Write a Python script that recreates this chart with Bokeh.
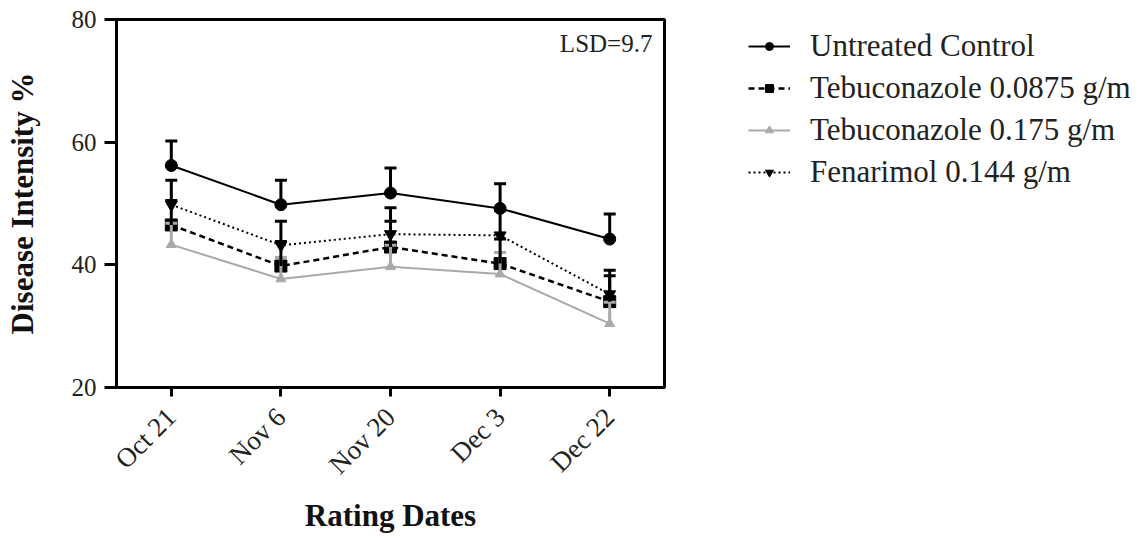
from bokeh.plotting import figure
from bokeh.models import (ColumnDataSource, Whisker, TeeHead, Legend, LegendItem,
                          Label, FixedTicker)
from bokeh.embed import file_html
from bokeh.resources import INLINE
from math import pi

# Rating dates and mean disease intensity (%) with upper error (SE)
dates = ["Oct 21", "Nov 6", "Nov 20", "Dec 3", "Dec 22"]

control = [56.2, 49.8, 51.7, 49.2, 44.2]
control_err = [4.0, 4.0, 4.1, 4.0, 4.1]

tebu_0875 = [46.5, 39.8, 42.9, 40.2, 34.0]
tebu_0875_err = [4.0, 4.0, 4.2, 4.0, 4.2]

tebu_175 = [43.3, 37.7, 39.7, 38.5, 30.4]
tebu_175_err = [3.5, 3.5, 3.5, 3.5, 3.5]

fenarimol = [49.8, 43.2, 45.0, 44.8, 35.2]
fenarimol_err = [4.0, 3.9, 4.3, 4.0, 3.9]

y_ticks = [20, 40, 60, 80]
lsd_text = "LSD=9.7"

SERIF = "Liberation Serif"

p = figure(frame_width=548, frame_height=368, x_range=dates, y_range=(20, 80),
           output_backend="svg", toolbar_location=None,
           min_border_left=116, min_border_right=0,
           min_border_top=19, min_border_bottom=0)

p.xgrid.visible = False
p.ygrid.visible = False
p.outline_line_color = "black"
p.outline_line_width = 3
p.background_fill_color = "white"
p.border_fill_color = "white"

# axes
p.yaxis.ticker = FixedTicker(ticks=y_ticks)
p.yaxis.minor_tick_line_color = None
for ax in (p.xaxis[0], p.yaxis[0]):
    ax.axis_line_width = 3
    ax.axis_line_color = "black"
    ax.major_tick_line_width = 3
    ax.major_tick_line_color = "black"
    ax.major_tick_in = 0
    ax.major_label_text_font = SERIF
    ax.major_label_text_color = "#222222"
    ax.axis_label_text_font = SERIF
    ax.axis_label_text_font_size = "31px"
    ax.axis_label_text_font_style = "bold"
    ax.axis_label_text_color = "#111111"

p.yaxis.major_tick_out = 12
p.yaxis.major_label_standoff = 8
p.yaxis.major_label_text_font_size = "25px"
p.yaxis.axis_label = "Disease Intensity %"
p.yaxis.axis_label_standoff = 29

p.xaxis.major_tick_out = 9
p.xaxis.major_label_standoff = 16
p.xaxis.major_label_text_font_size = "27px"
p.xaxis.major_label_orientation = pi / 4
p.xaxis.axis_label = "Rating Dates"
p.xaxis.axis_label_standoff = 5

series = [
    ("Untreated Control", control, control_err, "black", "solid", "circle", 12, 2),
    ("Tebuconazole 0.0875 g/m", tebu_0875, tebu_0875_err, "black", "6 4", "square", 12, 2.5),
    ("Tebuconazole 0.175 g/m", tebu_175, tebu_175_err, "#a9a9a9", "solid", "triangle", 10, 2),
    ("Fenarimol 0.144 g/m", fenarimol, fenarimol_err, "black", "2 3", "inverted_triangle", 12, 2),
]

draw_order = [2, 1, 3, 0]
renderers = {}
for i in draw_order:
    name, vals, err, color, dash, marker, msize, lw = series[i]
    src = ColumnDataSource(dict(x=dates, y=vals,
                                upper=[v + e for v, e in zip(vals, err)]))
    ln = p.line("x", "y", source=src, line_color=color, line_width=lw, line_dash=dash)
    wh = Whisker(source=src, base="x", lower="y", upper="upper", dimension="height",
                 line_color=color, line_width=3, level="glyph",
                 upper_head=TeeHead(size=12, line_color=color, line_width=3),
                 lower_head=None)
    p.add_layout(wh)
    sc = p.scatter("x", "y", source=src, marker=marker, size=msize,
                   fill_color=color, line_color=color)
    renderers[i] = (ln, sc)

items = [LegendItem(label=series[i][0], renderers=list(renderers[i])) for i in range(4)]

legend = Legend(items=items, location=(84, 197), orientation="vertical",
                label_text_font=SERIF, label_text_font_size="31px",
                label_text_color="#222222",
                glyph_width=42, glyph_height=20, label_standoff=20,
                label_height=20, spacing=6, padding=0, margin=0,
                border_line_color=None, background_fill_alpha=0)
p.add_layout(legend, "right")

p.add_layout(Label(x=4.89, y=76.1, text=lsd_text, text_align="right",
                   text_baseline="middle", text_font=SERIF,
                   text_font_size="25px", text_color="#222222"))

open("out.html", "w").write(file_html(p, INLINE))
